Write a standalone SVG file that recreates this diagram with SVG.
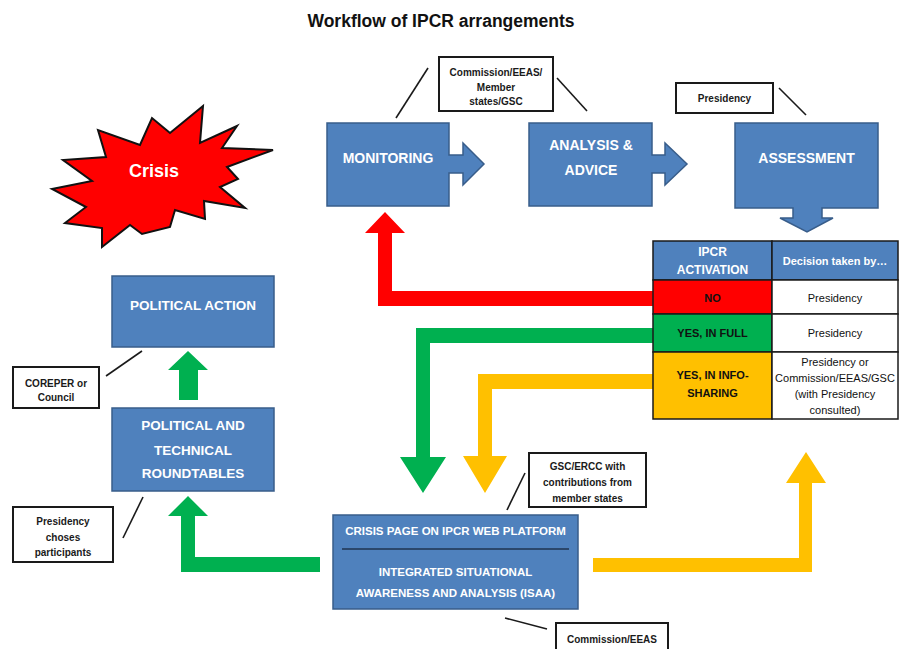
<svg xmlns="http://www.w3.org/2000/svg" width="899" height="649" viewBox="0 0 899 649">
  <style>
    .box { fill: #4F81BD; stroke: #385D8A; stroke-width: 1.5; }
    .btxt { font-family: "Liberation Sans", Arial, sans-serif; font-weight: bold; fill: #ffffff; text-anchor: middle; }
    .note { fill: #ffffff; stroke: #1a1a1a; stroke-width: 2; }
    .ntxt { font-family: "Liberation Sans", Arial, sans-serif; font-weight: bold; font-size: 10px; fill: #1a1a1a; text-anchor: middle; }
    .lead { stroke: #1a1a1a; stroke-width: 1.6; fill: none; }
    .red { fill: #FF0000; }
    .green { fill: #00B050; }
    .yellow { fill: #FFC000; }
    .cell { stroke: #1a1a1a; stroke-width: 1.5; }
    .ttxt { font-family: "Liberation Sans", Arial, sans-serif; font-size: 11px; fill: #111111; text-anchor: middle; }
    .tb { font-weight: bold; }
  </style>

  <rect width="899" height="649" fill="#ffffff"/>

  <!-- title -->
  <text x="441" y="27" font-family="'Liberation Sans', Arial, sans-serif" font-weight="bold" font-size="17.5" fill="#111111" text-anchor="middle">Workflow of IPCR arrangements</text>

  <!-- flow connectors (thick coloured arrows and pointer lines) -->
  <g id="connectors">
    <!-- NO: back to monitoring -->
    <path class="red" d="M654,291 H392 V233 H405 L385,212 L365,233 H378 V306 H654 Z"/>
    <!-- YES, IN FULL: to crisis page -->
    <path class="green" d="M654,328 H416 V457 H400 L423,493 L446,457 H430 V343 H654 Z"/>
    <!-- YES, IN INFO-SHARING: to crisis page -->
    <path class="yellow" d="M654,374 H478 V456 H463 L485,493 L507,456 H492 V389 H654 Z"/>
    <!-- crisis page to roundtables -->
    <path class="green" d="M320,557 H195 V516 H208 L188,496 L168,516 H181 V572 H320 Z"/>
    <!-- roundtables to political action -->
    <path class="green" d="M179,400 V370 H168 L188,351 L208,370 H198 V400 Z"/>
    <!-- crisis page back up to the table -->
    <path class="yellow" d="M593,558 H799 V483 H786 L806,452 L826,483 H812 V572 H593 Z"/>

    <!-- pointer lines from notes -->
    <line class="lead" x1="396" y1="118" x2="428" y2="68"/>
    <line class="lead" x1="557" y1="78" x2="587" y2="111"/>
    <line class="lead" x1="779" y1="88" x2="806" y2="115"/>
    <line class="lead" x1="106" y1="376" x2="142" y2="351"/>
    <line class="lead" x1="123" y1="538" x2="143" y2="497"/>
    <line class="lead" x1="507" y1="510" x2="525" y2="473"/>
    <line class="lead" x1="505" y1="618" x2="547" y2="629"/>
  </g>

  <!-- crisis burst -->
  <g id="crisis">
    <polygon points="52,189 92,181 63,160 106,157 98,130 140,145 152,118 170,133 203,106 200,143 237,126 222,148 273,150 227,167 238,179 220,187 245,208 204,201 205,219 175,210 170,227 142,234 130,225 102,247 102,228 65,223 86,207" fill="#FF0000" stroke="#111111" stroke-width="2" stroke-linejoin="miter"/>
    <text class="btxt" x="154" y="177" font-size="18">Crisis</text>
  </g>

  <g id="monitoring">
    <path class="box" d="M327,123 H449 V155 H463 V143 L484,164 L463,185 V173 H449 V206 H327 Z"/>
    <text class="btxt" x="388" y="163" font-size="14">MONITORING</text>
  </g>

  <g id="analysis">
    <path class="box" d="M529,123 H652 V155 H665 V143 L687,164 L665,185 V173 H652 V206 H529 Z"/>
    <text class="btxt" x="591" y="150" font-size="14">ANALYSIS &amp;</text>
    <text class="btxt" x="591" y="175" font-size="14">ADVICE</text>
  </g>

  <g id="assessment">
    <path class="box" d="M735,123 H878 V208 H822 V218 H833 L807,232 L780,218 H793 V208 H735 Z"/>
    <text class="btxt" x="806.5" y="163" font-size="14">ASSESSMENT</text>
  </g>

  <g id="political-action">
    <rect class="box" x="112" y="276" width="162" height="71"/>
    <text class="btxt" x="193" y="310" font-size="13.5">POLITICAL ACTION</text>
  </g>

  <g id="roundtables">
    <rect class="box" x="112" y="408" width="162" height="83"/>
    <text class="btxt" x="193" y="430" font-size="13.5">POLITICAL AND</text>
    <text class="btxt" x="193" y="455" font-size="13.5">TECHNICAL</text>
    <text class="btxt" x="193" y="478" font-size="13.5">ROUNDTABLES</text>
  </g>

  <g id="crisis-page">
    <rect class="box" x="333" y="515" width="245" height="94"/>
    <text class="btxt" x="455.5" y="535" font-size="11.5">CRISIS PAGE ON IPCR WEB PLATFORM</text>
    <line x1="342" y1="549" x2="569" y2="549" stroke="#1F3550" stroke-width="1.5"/>
    <text class="btxt" x="455.5" y="576" font-size="11.5">INTEGRATED SITUATIONAL</text>
    <text class="btxt" x="455.5" y="597" font-size="11.5">AWARENESS AND ANALYSIS (ISAA)</text>
  </g>

  <!-- notes -->
  <g id="note-monitoring-actors">
    <rect class="note" x="439" y="57" width="114" height="54"/>
    <text class="ntxt" x="496" y="76">Commission/EEAS/</text>
    <text class="ntxt" x="496" y="91">Member</text>
    <text class="ntxt" x="496" y="105">states/GSC</text>
  </g>

  <g id="note-presidency">
    <rect class="note" x="676" y="83" width="97" height="30"/>
    <text class="ntxt" x="724.5" y="101.5">Presidency</text>
  </g>

  <g id="note-coreper">
    <rect class="note" x="13" y="367" width="86" height="41"/>
    <text class="ntxt" x="56" y="386.5">COREPER or</text>
    <text class="ntxt" x="56" y="400.5">Council</text>
  </g>

  <g id="note-participants">
    <rect class="note" x="13" y="507" width="100" height="55"/>
    <text class="ntxt" x="63" y="524.5">Presidency</text>
    <text class="ntxt" x="63" y="540.5">choses</text>
    <text class="ntxt" x="63" y="555.5">participants</text>
  </g>

  <g id="note-gsc">
    <rect class="note" x="529" y="453" width="117" height="54"/>
    <text class="ntxt" x="587.5" y="469.5">GSC/ERCC with</text>
    <text class="ntxt" x="587.5" y="485.5">contributions from</text>
    <text class="ntxt" x="587.5" y="501.5">member states</text>
  </g>

  <g id="note-commission">
    <rect class="note" x="556" y="623" width="112" height="34"/>
    <text class="ntxt" x="612" y="642.5">Commission/EEAS</text>
  </g>

  <!-- activation decision table -->
  <g id="activation-table">
    <rect class="cell" x="653" y="241" width="119" height="39" fill="#4F81BD"/>
    <rect class="cell" x="772" y="241" width="126" height="39" fill="#4F81BD"/>
    <rect class="cell" x="653" y="280" width="119" height="34" fill="#FF0000"/>
    <rect class="cell" x="772" y="280" width="126" height="34" fill="#ffffff"/>
    <rect class="cell" x="653" y="314" width="119" height="38" fill="#00B050"/>
    <rect class="cell" x="772" y="314" width="126" height="38" fill="#ffffff"/>
    <rect class="cell" x="653" y="352" width="119" height="67" fill="#FFC000"/>
    <rect class="cell" x="772" y="352" width="126" height="67" fill="#ffffff"/>

    <text class="btxt" x="712.5" y="256" font-size="12">IPCR</text>
    <text class="btxt" x="712.5" y="274" font-size="12">ACTIVATION</text>
    <text class="btxt" x="835" y="265" font-size="11">Decision taken by…</text>

    <text class="ttxt tb" x="712.5" y="302">NO</text>
    <text class="ttxt tb" x="712.5" y="337">YES, IN FULL</text>
    <text class="ttxt tb" x="712.5" y="379">YES, IN INFO-</text>
    <text class="ttxt tb" x="712.5" y="397">SHARING</text>

    <text class="ttxt" x="835" y="302" font-size="11.5">Presidency</text>
    <text class="ttxt" x="835" y="337" font-size="11.5">Presidency</text>
    <text class="ttxt" x="835" y="366">Presidency or</text>
    <text class="ttxt" x="835" y="382" font-size="10.8">Commission/EEAS/GSC</text>
    <text class="ttxt" x="835" y="398">(with Presidency</text>
    <text class="ttxt" x="835" y="414">consulted)</text>
  </g>
</svg>
